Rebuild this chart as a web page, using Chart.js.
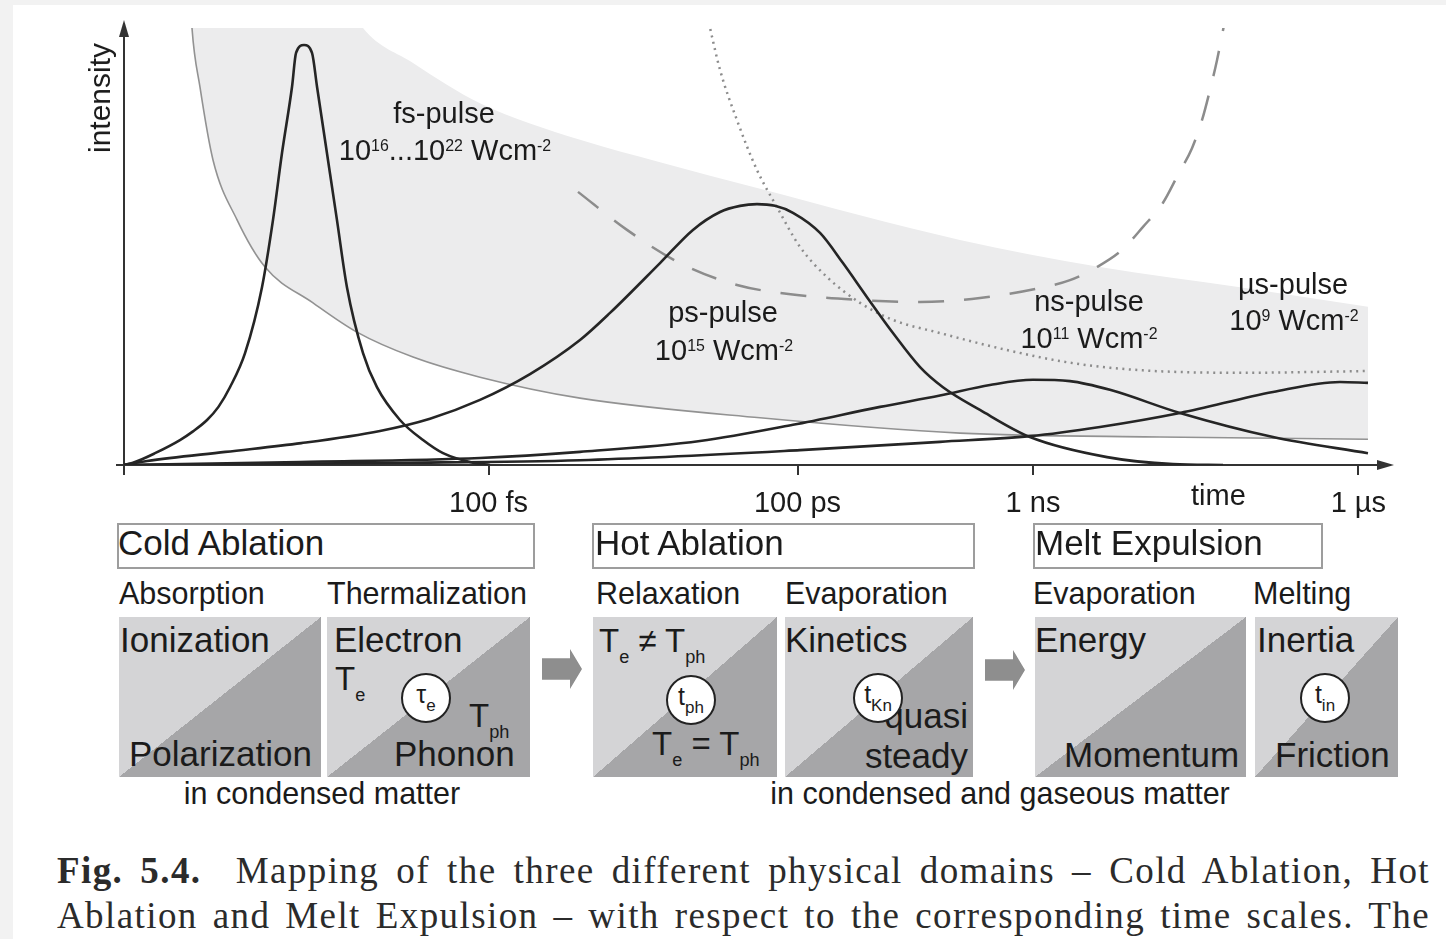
<!DOCTYPE html>
<html>
<head>
<meta charset="utf-8">
<script src="https://cdn.jsdelivr.net/npm/chart.js@4.4.1/dist/chart.umd.min.js"></script>
<style>
  html, body { margin: 0; padding: 0; width: 1446px; height: 939px; overflow: hidden; background: #f2f2f2; }
  #sheet { position: absolute; left: 13px; top: 5px; right: 0; bottom: 0; background: #fff; }
  #plot { position: absolute; left: 0; top: 0; z-index: 1; }
  .t { position: absolute; z-index: 2; font-family: 'Liberation Sans', Arial, Helvetica, sans-serif;
       color: #1b1b1b; white-space: nowrap; line-height: 1; }
  .sup { font-size: 0.55em; position: relative; top: -0.62em; }
  .sub { font-size: 0.55em; position: relative; top: 0.62em; }
  .head { position: absolute; z-index: 1; box-sizing: border-box; border: 2px solid #9d9d9d; background: #fff; }
  .split { position: absolute; z-index: 1; background: linear-gradient(to top left, #a6a6a8 50%, #d4d4d6 50%); }
  .ring { position: absolute; z-index: 3; width: 50px; height: 50px; box-sizing: border-box;
          border: 2px solid #222; border-radius: 50%; background: #fff;
          display: flex; align-items: center; justify-content: center;
          font-family: 'Liberation Sans', Arial, sans-serif; line-height: 1; color: #1b1b1b; }
  .ring .rm { font-size: 25px; position: relative; top: -4px; }
  .ring .rs { font-size: 17px; position: relative; top: 7px; }
  .arrow { position: absolute; z-index: 1; width: 40px; height: 40px; background: #8e8e8e;
           clip-path: polygon(0 23%, 70% 23%, 70% 0, 100% 50%, 70% 100%, 70% 77%, 0 77%); }
  .cap { position: absolute; z-index: 2; left: 57px; width: 1373px; font-family: 'Liberation Serif', 'Times New Roman', serif;
         font-size: 37px; letter-spacing: 1.4px; line-height: 1; color: #2b2b2b; text-align: justify; text-align-last: justify; }
</style>
</head>
<body>
<div id="sheet"></div>
<canvas id="plot" width="1446" height="530"></canvas>
<div class="cap" style="top:852px"><b>Fig. 5.4.</b>&nbsp; Mapping of the three different physical domains – Cold Ablation, Hot</div>
<div class="cap" style="top:897px">Ablation and Melt Expulsion – with respect to the corresponding time scales. The</div>
<script>
// Time axis: position along the drawn (non-uniform) time axis, 0..1000; intensity: 0..100.
const tickPositions = [0, 288, 532, 718, 975];
const tickLabels = ['', '100 fs', '100 ps', '1 ns', '1 µs'];

// Shaded intensity window: upper and lower edges
const bandTop = [[53.7,170],[188.8,100],[228.3,92.0],[281.2,82.8],[360.2,74.4],[423.4,69.3],[502.4,63.2],
  [660.3,51.5],[770.9,45.3],[881.5,40.7],[982.6,36.2]];
const bandBottom = [[50.5,118],[53.7,100],[60.0,86.5],[70.3,69.8],[89.3,56.1],[111.4,45.3],[149.3,37.1],
  [184.0,30.4],[228.3,24.7],[281.2,20.1],[360.2,15.3],[502.4,10.8],[660.3,7.3],[818.3,6.4],[982.6,5.9]];

// Dotted and dashed trend curves
const dottedTrend = [[459.7,104.1],[462.9,100],[470.8,90.4],[484.2,78.9],[500.0,67.5],[515.8,59.0],[534.0,49.9],
  [555.3,43.0],[581.4,37.1],[607.4,33.2],[644.5,30.2],[697.5,26.3],[749.6,23.3],[802.5,21.7],[881.5,21.1],[981.8,21.5]];
const dashedTrend = [[358.6,62.5],[397.3,53.8],[439.2,46.2],[484.2,41.2],[531.6,38.9],[579.0,37.8],[628.8,37.3],
  [676.1,38.2],[723.5,40.5],[747.2,42.3],[768.6,45.3],[788.3,49.2],[804.9,54.5],[820.7,60.0],[832.5,66.4],
  [843.6,72.5],[851.5,78.9],[857.8,85.8],[863.4,92.7],[868.1,99.5],[872.0,105.3]];

// Pulse shapes
const fsPulse = [[0,0],[7.1,0.5],[24.5,2.7],[44.2,5.7],[54.5,7.7],[65.6,10.3],[74.6,13.3],[83.7,17.8],[95.6,25.6],
  [109.0,40.7],[117.7,56.1],[124.8,71.4],[132.7,86.5],[135.9,94.3],[142.2,96.1],[148.5,94.3],[152.5,86.5],
  [160.3,71.4],[168.2,56.1],[176.1,40.7],[188.8,25.6],[199.8,17.8],[218.0,10.3],[236.2,5.7],[252.0,2.7],
  [275.7,0.5],[289.1,0]];
const psPulse = [[0,0],[18.2,0.9],[80.0,3.0],[140.0,5.0],[202.2,7.8],[241.7,10.6],[281.2,14.9],[320.7,20.8],
  [360.2,28.6],[383.9,34.8],[423.4,46.2],[449.4,53.8],[470.8,57.9],[486.6,59.3],[500.0,59.7],[514.2,59.3],
  [528.4,57.7],[549.8,53.1],[567.9,46.2],[586.9,38.4],[607.4,30.2],[628.8,22.4],[646.9,17.8],[676.1,12.6],
  [715.6,6.4],[776.5,1.8],[828.6,0.2],[868.1,0]];
const nsPulse = [[0,0],[139.0,0.7],[281.2,1.6],[360.2,3.0],[455.0,5.5],[528.4,9.2],[597.2,13.3],[644.5,15.9],
  [684.0,18.3],[718.0,19.5],[747.2,19.2],[778.8,17.2],[834.1,11.9],[907.6,6.4],[982.6,2.7]];
const usPulse = [[0,0],[218.0,0.5],[360.2,1.1],[534.0,3.4],[644.5,5.3],[715.6,6.6],[770.9,8.7],[834.1,11.9],
  [907.6,16.7],[960.5,19.0],[982.6,18.8]];

const xy = a => a.map(p => ({ x: p[0], y: p[1] }));
const curve = (data, color, width, extra) => Object.assign({
  data: xy(data), borderColor: color, borderWidth: width, pointRadius: 0, fill: false,
  cubicInterpolationMode: 'monotone'
}, extra);

// Axis arrowheads and the short stub of the time axis left of the origin
const axisArrows = {
  id: 'axisArrows',
  afterDraw(chart) {
    const { ctx, chartArea: a } = chart;
    ctx.save();
    ctx.fillStyle = '#333';
    ctx.strokeStyle = '#333';
    ctx.lineWidth = 2;
    ctx.beginPath(); ctx.moveTo(a.left - 8, a.bottom); ctx.lineTo(a.left, a.bottom); ctx.stroke();
    ctx.beginPath(); ctx.moveTo(a.left, a.top - 8); ctx.lineTo(a.left - 5, a.top + 9); ctx.lineTo(a.left + 5, a.top + 9); ctx.closePath(); ctx.fill();
    ctx.beginPath(); ctx.moveTo(a.right + 4, a.bottom); ctx.lineTo(a.right - 13, a.bottom - 5); ctx.lineTo(a.right - 13, a.bottom + 5); ctx.closePath(); ctx.fill();
    ctx.restore();
  }
};

new Chart(document.getElementById('plot'), {
  type: 'line',
  data: {
    datasets: [
      curve(bandTop, 'rgba(0,0,0,0)', 0, { fill: '+1', backgroundColor: '#ececed', order: 10 }),
      curve(bandBottom, '#929292', 1.6, { order: 9 }),
      curve(dottedTrend, '#8c8c8c', 2.5, { borderDash: [2, 4.5], order: 8 }),
      curve(dashedTrend, '#8c8c8c', 2.5, { borderDash: [26, 20], order: 7 }),
      curve(fsPulse, '#252525', 2.6, { order: 1 }),
      curve(psPulse, '#252525', 2.6, { order: 2 }),
      curve(nsPulse, '#252525', 2.6, { order: 3 }),
      curve(usPulse, '#252525', 2.6, { order: 4 })
    ]
  },
  options: {
    responsive: false,
    animation: false,
    devicePixelRatio: 1,
    events: [],
    layout: { padding: { left: 0, top: 28, right: 56, bottom: 0 } },
    plugins: { legend: { display: false }, tooltip: { enabled: false } },
    scales: {
      x: {
        type: 'linear', min: 0, max: 1000,
        afterFit: s => { s.height = 65; },
        afterBuildTicks: s => { s.ticks = tickPositions.map(v => ({ value: v })); },
        grid: { display: true, drawOnChartArea: false, drawTicks: true, tickLength: 10, color: '#333', lineWidth: 2 },
        border: { display: true, color: '#333', width: 2 },
        ticks: {
          autoSkip: false, maxRotation: 0, padding: 12, color: '#1b1b1b',
          font: { family: 'Liberation Sans', size: 29 },
          callback: (v, i) => tickLabels[i]
        }
      },
      y: {
        type: 'linear', min: 0, max: 100,
        afterFit: s => { s.width = 124; },
        grid: { display: false },
        border: { display: true, color: '#333', width: 2 },
        ticks: { display: false }
      }
    }
  },
  plugins: [axisArrows]
});

// ---- text and diagram blocks ----
const BASE = 0.8465; // baseline offset of Liberation Sans with line-height 1
function put(html, x, base, size, align, extra) {
  const d = document.createElement('div');
  d.className = 't';
  d.style.fontSize = size + 'px';
  d.style.left = x + 'px';
  d.style.top = (base - BASE * size) + 'px';
  if (align === 'c') d.style.transform = 'translateX(-50%)';
  if (align === 'r') d.style.transform = 'translateX(-100%)';
  if (extra) Object.assign(d.style, extra);
  d.innerHTML = html;
  document.body.appendChild(d);
  return d;
}
function block(cls, x, y, w, h) {
  const d = document.createElement('div');
  d.className = cls;
  Object.assign(d.style, { left: x + 'px', top: y + 'px', width: w + 'px', height: h + 'px' });
  document.body.appendChild(d);
}
function ring(cx, cy, main, sub) {
  const d = document.createElement('div');
  d.className = 'ring';
  d.style.left = (cx - 25) + 'px';
  d.style.top = (cy - 25) + 'px';
  d.innerHTML = '<span class="rm">' + main + '</span><span class="rs">' + sub + '</span>';
  document.body.appendChild(d);
}
const sup = s => '<span class="sup">' + s + '</span>';
const sub = s => '<span class="sub">' + s + '</span>';

// axis titles
put('intensity', 100, 98, 30, null, { transform: 'translate(-50%, -50%) rotate(-90deg)', top: '98px', left: '100px' });
put('time', 1191, 506, 29);

// pulse annotations
put('fs-pulse', 444, 124, 29, 'c');
put('10' + sup('16') + '...10' + sup('22') + ' Wcm' + sup('-2'), 445, 161, 29, 'c');
put('ps-pulse', 723, 323, 29, 'c');
put('10' + sup('15') + ' Wcm' + sup('-2'), 724, 361, 29, 'c');
put('ns-pulse', 1089, 312, 29, 'c');
put('10' + sup('11') + ' Wcm' + sup('-2'), 1089, 349, 29, 'c');
put('µs-pulse', 1293, 295, 29, 'c');
put('10' + sup('9') + ' Wcm' + sup('-2'), 1294, 331, 29, 'c');

// domain headings
block('head', 117, 523, 418, 46);
block('head', 592, 523, 383, 46);
block('head', 1033, 523, 290, 46);
put('Cold Ablation', 118, 555, 35);
put('Hot Ablation', 595, 555, 35);
put('Melt Expulsion', 1035, 555, 35);

// process names
put('Absorption', 119, 604, 30.5);
put('Thermalization', 327, 604, 30.5);
put('Relaxation', 596, 604, 30.5);
put('Evaporation', 785, 604, 30.5);
put('Evaporation', 1033, 604, 30.5);
put('Melting', 1253, 604, 30.5);

// split squares
block('split', 119, 617, 202, 160);
block('split', 327, 617, 203, 160);
block('split', 593, 617, 184, 160);
block('split', 785, 617, 188, 160);
block('split', 1035, 617, 211, 160);
block('split', 1255, 617, 143, 160);

// arrows between domains
block('arrow', 542, 649, 40, 40);
block('arrow', 985, 650, 40, 40);

// square contents
put('Ionization', 120, 652, 35);
put('Polarization', 129, 766, 35);
put('Electron', 334, 652, 35);
put('T' + sub('e'), 335, 690, 33);
put('T' + sub('ph'), 469, 727, 33);
put('Phonon', 394, 766, 35);
ring(426, 698, 'τ', 'e');

put('T' + sub('e') + ' ≠ T' + sub('ph'), 599, 652, 33);
put('T' + sub('e') + ' = T' + sub('ph'), 652, 755, 33);
ring(691, 700, 't', 'ph');

put('Kinetics', 785, 652, 35);
put('quasi', 968, 728, 35, 'r');
put('steady', 968, 768, 35, 'r');
ring(878, 698, 't', 'Kn');

put('Energy', 1035, 652, 35);
put('Momentum', 1064, 767, 35);

put('Inertia', 1257, 652, 35);
put('Friction', 1275, 767, 35);
ring(1325, 698, 't', 'in');

put('in condensed matter', 322, 804, 30.5, 'c');
put('in condensed and gaseous matter', 1000, 804, 30.5, 'c');
</script>
</body>
</html>
